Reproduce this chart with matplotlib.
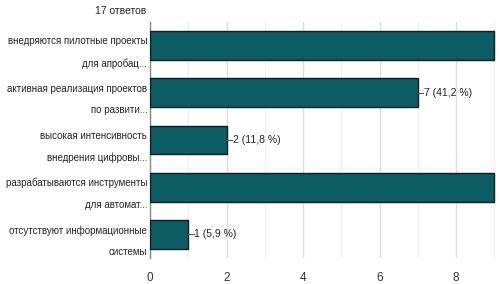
import numpy as np
import matplotlib
matplotlib.use("Agg")
import matplotlib.pyplot as plt
from matplotlib.ticker import MultipleLocator

# survey answers (Russian), multiple choice, 17 respondents
categories = [
    "внедряются пилотные проекты\nдля апробац...",
    "активная реализация проектов\nпо развити...",
    "высокая интенсивность\nвнедрения цифровы...",
    "разрабатываются инструменты\nдля автомат...",
    "отсутствуют информационные\nсистемы",
]
counts = [9, 7, 2, 9, 1]
labels = [None, "7 (41,2 %)", "2 (11,8 %)", None, "1 (5,9 %)"]
n_answers = 17

plt.rcParams['font.family'] = ['Liberation Sans', 'DejaVu Sans']

fig = plt.figure(figsize=(5.0, 2.84), dpi=100)
ax = fig.add_axes([0.30, 1 - 258/284., 0.70, 236/284.])

y = np.arange(len(categories))
ax.barh(y, counts, height=0.61, color='#0b5d63', edgecolor='#0a1f22', linewidth=1.0, zorder=3)

for yi, v, lab in zip(y, counts, labels):
    if lab is None:
        continue
    ax.plot([v, v + 0.15], [yi, yi], color='#555555', lw=0.8, zorder=4)
    ax.text(v + 0.16, yi, lab, va='center', ha='left', fontsize=7.5, color='#222222')

ax.set_ylim(len(categories) - 0.5, -0.5)
ax.set_xlim(0, 9.15)
ax.set_yticks(y)
ax.set_yticklabels(categories, fontsize=7.0, color='#222222', linespacing=2.4)
ax.xaxis.set_major_locator(MultipleLocator(2))
ax.xaxis.set_minor_locator(MultipleLocator(1))
ax.tick_params(axis='x', which='both', length=0, labelsize=8.5, colors='#333333', pad=10)
ax.tick_params(axis='y', length=0, pad=2)
ax.grid(axis='x', which='major', color='#dddddd', lw=1.0, zorder=0)
ax.grid(axis='x', which='minor', color='#efefef', lw=0.8, zorder=0)
for s in ['top', 'right', 'bottom']:
    ax.spines[s].set_visible(False)
ax.spines['left'].set_color('#888888')
ax.spines['left'].set_linewidth(1.0)

fig.text(95/500., 1 - 11/284., "%d ответов" % n_answers, fontsize=7.5, color='#222222',
         ha='left', va='center')

fig.savefig("out.png", dpi=100)
